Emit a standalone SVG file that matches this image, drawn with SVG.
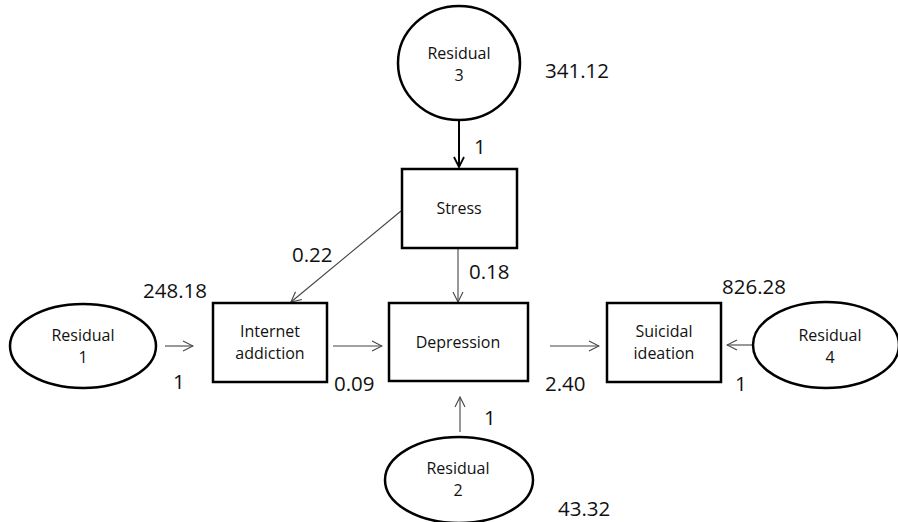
<svg xmlns="http://www.w3.org/2000/svg" width="898" height="522" viewBox="0 0 898 522">
<style>
.shape{fill:#fff;stroke:#000;stroke-width:2.5}
.lbl{font-family:"Open Sans","Noto Sans",sans-serif;font-size:16px;fill:#111;text-anchor:middle}
.num{font-family:"Open Sans","Noto Sans",sans-serif;font-size:20.5px;fill:#111}
.edge{stroke:#444;stroke-width:1.1;fill:none;marker-end:url(#arr)}
</style>
<defs>
<marker id="arr" viewBox="0 0 12 12" refX="11" refY="6" markerWidth="12" markerHeight="12" markerUnits="userSpaceOnUse" orient="auto">
<path d="M1,1 L11,6 L1,11" fill="none" stroke="#444" stroke-width="1.1"/>
</marker>
<marker id="arrb" viewBox="0 0 12 12" refX="11" refY="6" markerWidth="12" markerHeight="12" markerUnits="userSpaceOnUse" orient="auto">
<path d="M1,1 L11,6 L1,11" fill="none" stroke="#000" stroke-width="1.8"/>
</marker>
</defs>
<rect width="898" height="522" fill="#fff"/>
<g id="connectors">
<line x1="459" y1="121" x2="459" y2="167" stroke="#000" stroke-width="2" fill="none" marker-end="url(#arrb)"/>
<line class="edge" x1="401" y1="211" x2="291" y2="302"/>
<line class="edge" x1="458" y1="249" x2="458" y2="302"/>
<line class="edge" x1="165" y1="346" x2="193" y2="346"/>
<line class="edge" x1="333" y1="346" x2="382" y2="346"/>
<line class="edge" x1="550" y1="346" x2="599" y2="346"/>
<line class="edge" x1="752" y1="345" x2="727" y2="345"/>
<line class="edge" x1="460" y1="432" x2="460" y2="397"/>
</g>
<g id="residual3">
<ellipse class="shape" cx="459" cy="63" rx="61" ry="57"/>
<text class="lbl" x="459" y="59">Residual</text>
<text class="lbl" x="459" y="81">3</text>
</g>
<g id="stress">
<rect class="shape" x="402" y="169" width="115" height="79"/>
<text class="lbl" x="459" y="214">Stress</text>
</g>
<g id="internet">
<rect class="shape" x="213" y="303" width="114" height="79"/>
<text class="lbl" x="270" y="337">Internet</text>
<text class="lbl" x="270" y="359">addiction</text>
</g>
<g id="depression">
<rect class="shape" x="389" y="303" width="139" height="78"/>
<text class="lbl" x="458" y="348">Depression</text>
</g>
<g id="suicidal">
<rect class="shape" x="607" y="303" width="114" height="79"/>
<text class="lbl" x="664" y="337">Suicidal</text>
<text class="lbl" x="664" y="359">ideation</text>
</g>
<g id="residual1">
<ellipse class="shape" cx="83" cy="346" rx="73" ry="42"/>
<text class="lbl" x="83" y="341">Residual</text>
<text class="lbl" x="83" y="363">1</text>
</g>
<g id="residual4">
<ellipse class="shape" cx="826" cy="345" rx="73" ry="43"/>
<text class="lbl" x="830" y="341">Residual</text>
<text class="lbl" x="830" y="363">4</text>
</g>
<g id="residual2">
<ellipse class="shape" cx="459" cy="480" rx="74" ry="43"/>
<text class="lbl" x="458" y="474">Residual</text>
<text class="lbl" x="458" y="496">2</text>
</g>
<g id="labels">
<text class="num" x="545" y="78">341.12</text>
<text class="num" x="474" y="154">1</text>
<text class="num" x="292" y="262">0.22</text>
<text class="num" x="469" y="279">0.18</text>
<text class="num" x="143" y="298">248.18</text>
<text class="num" x="722" y="294">826.28</text>
<text class="num" x="173" y="389">1</text>
<text class="num" x="334" y="391">0.09</text>
<text class="num" x="545" y="391">2.40</text>
<text class="num" x="735" y="391">1</text>
<text class="num" x="484" y="425">1</text>
<text class="num" x="558" y="516">43.32</text>
</g>
</svg>
